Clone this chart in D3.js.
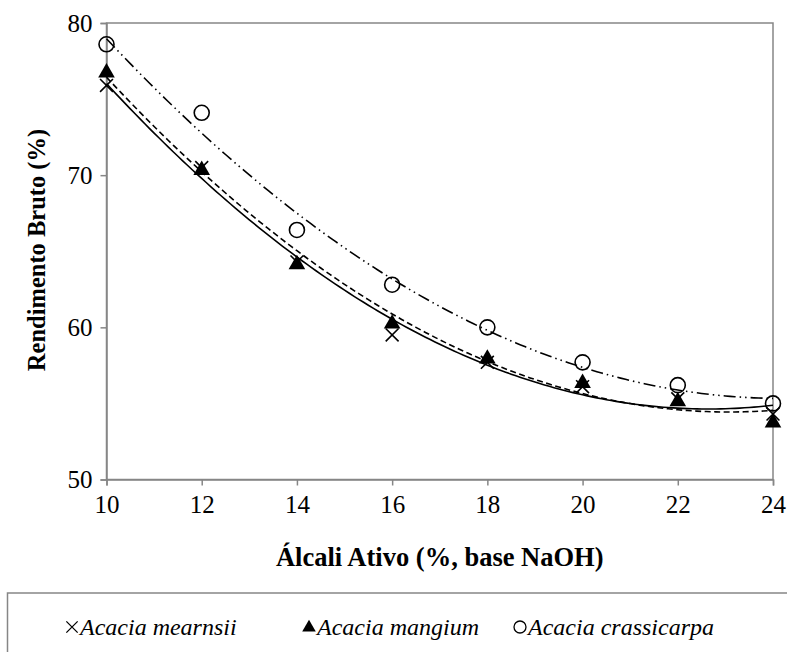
<!DOCTYPE html>
<html><head><meta charset="utf-8">
<script src="https://cdn.jsdelivr.net/npm/d3@7"></script>
<style>body{margin:0;background:#fff}svg{display:block}</style>
</head><body>
<svg id="c" width="787" height="652"></svg>
<script>
const xValues = [10, 12, 14, 16, 18, 20, 22, 24];
const mearnsii = [75.9, 70.5, 64.3, 59.5, 57.7, 56.1, 55.3, 54.3];
const mangium = [76.8, 70.4, 64.2, 60.3, 58.0, 56.4, 55.2, 53.8];
const crassicarpa = [78.6, 74.1, 66.4, 62.8, 60.0, 57.7, 56.2, 55.0];
const xTicks = [10, 12, 14, 16, 18, 20, 22, 24];
const yTicks = [50, 60, 70, 80];
const seriesNames = ["Acacia mearnsii", "Acacia mangium", "Acacia crassicarpa"];

const FONT = '"Liberation Serif"';
const svg = d3.select("#c");
const L = 106.5, R = 773, T = 23, B = 479.5;
const x = d3.scaleLinear().domain([10, 24]).range([L, R]);
const y = d3.scaleLinear().domain([50, 80]).range([B, T]);
const gray = "#868686";

svg.append("rect").attr("x", L).attr("y", T).attr("width", R - L).attr("height", B - T)
  .attr("fill", "none").attr("stroke", gray).attr("stroke-width", 1.5);

const ax = svg.append("g").attr("transform", `translate(0,${B})`)
  .call(d3.axisBottom(x).tickValues(xTicks).tickSize(6).tickPadding(10).tickFormat(d3.format("d")));
const ay = svg.append("g").attr("transform", `translate(${L},0)`)
  .call(d3.axisLeft(y).tickValues(yTicks).tickSize(6).tickPadding(8).tickFormat(d3.format("d")));
[ax, ay].forEach(g => {
  g.select(".domain").attr("stroke", gray).attr("stroke-width", 1.5);
  g.selectAll(".tick line").attr("stroke", gray).attr("stroke-width", 1.5);
  g.selectAll(".tick text").attr("fill", "#000")
    .style("font-family", FONT).style("font-size", "25px");
});

function quadFit(xs, ys) {
  const n = xs.length;
  let s = [0,0,0,0,0], t = [0,0,0];
  for (let i = 0; i < n; i++) {
    const xi = xs[i], yi = ys[i];
    for (let k = 0; k <= 4; k++) s[k] += Math.pow(xi, k);
    for (let k = 0; k <= 2; k++) t[k] += yi * Math.pow(xi, k);
  }
  const M = [[s[0], s[1], s[2], t[0]], [s[1], s[2], s[3], t[1]], [s[2], s[3], s[4], t[2]]];
  for (let i = 0; i < 3; i++) {
    let p = i;
    for (let r = i + 1; r < 3; r++) if (Math.abs(M[r][i]) > Math.abs(M[p][i])) p = r;
    [M[i], M[p]] = [M[p], M[i]];
    for (let r = 0; r < 3; r++) if (r !== i) {
      const f = M[r][i] / M[i][i];
      for (let c = i; c < 4; c++) M[r][c] -= f * M[i][c];
    }
  }
  const c = [M[0][3] / M[0][0], M[1][3] / M[1][1], M[2][3] / M[2][2]];
  return v => c[0] + c[1] * v + c[2] * v * v;
}
const styles = ["none", "6,3.5", "12,4,1.5,4,1.5,4"];
[mearnsii, mangium, crassicarpa].forEach((ys, i) => {
  const f = quadFit(xValues, ys);
  const pts = d3.range(10, 24.001, 0.1).map(v => [v, f(v)]);
  svg.append("path").datum(pts)
    .attr("d", d3.line().x(d => x(d[0])).y(d => y(d[1])))
    .attr("fill", "none").attr("stroke", "#000").attr("stroke-width", 1.6)
    .attr("stroke-dasharray", styles[i]);
});

const crossSym = d3.symbol().type(d3.symbolX).size(110);
const triSym = d3.symbol().type(d3.symbolTriangle).size(120);
svg.append("g").selectAll("path").data(xValues).join("path")
  .attr("d", crossSym).attr("transform", (d, i) => `translate(${x(d)},${y(mearnsii[i])})`)
  .attr("fill", "none").attr("stroke", "#000").attr("stroke-width", 1.6);
svg.append("g").selectAll("path").data(xValues).join("path")
  .attr("d", triSym).attr("transform", (d, i) => `translate(${x(d)},${y(mangium[i]) + 1})`)
  .attr("fill", "#000");
svg.append("g").selectAll("circle").data(xValues).join("circle")
  .attr("cx", d => x(d)).attr("cy", (d, i) => y(crassicarpa[i])).attr("r", 7.5)
  .attr("fill", "none").attr("stroke", "#000").attr("stroke-width", 1.6);

svg.append("text").attr("x", (L + R) / 2).attr("y", 566).attr("text-anchor", "middle")
  .style("font-family", FONT).style("font-size", "26.5px").style("font-weight", "bold").text("Álcali Ativo (%, base NaOH)");
svg.append("text").attr("transform", "translate(45,250) rotate(-90)").attr("text-anchor", "middle")
  .style("font-family", FONT).style("font-size", "24.5px").style("font-weight", "bold").text("Rendimento Bruto (%)");

svg.append("rect").attr("x", 7.5).attr("y", 593).attr("width", 800).attr("height", 80)
  .attr("fill", "none").attr("stroke", gray).attr("stroke-width", 1.5);
const legX = [72, 309, 520];
const lg = svg.append("g");
lg.append("path").attr("d", d3.symbol().type(d3.symbolX).size(85))
  .attr("transform", `translate(${legX[0]},627)`).attr("fill", "none").attr("stroke", "#000").attr("stroke-width", 1.3);
lg.append("path").attr("d", d3.symbol().type(d3.symbolTriangle).size(80))
  .attr("transform", `translate(${legX[1]},627.5)`).attr("fill", "#000");
lg.append("circle").attr("cx", legX[2]).attr("cy", 627).attr("r", 6)
  .attr("fill", "none").attr("stroke", "#000").attr("stroke-width", 1.3);
seriesNames.forEach((n, i) => {
  lg.append("text").attr("x", legX[i] + 8).attr("y", 635).style("font-size", "24px")
    .style("font-family", FONT).style("font-style", "italic").text(n);
});
</script>
</body></html>
